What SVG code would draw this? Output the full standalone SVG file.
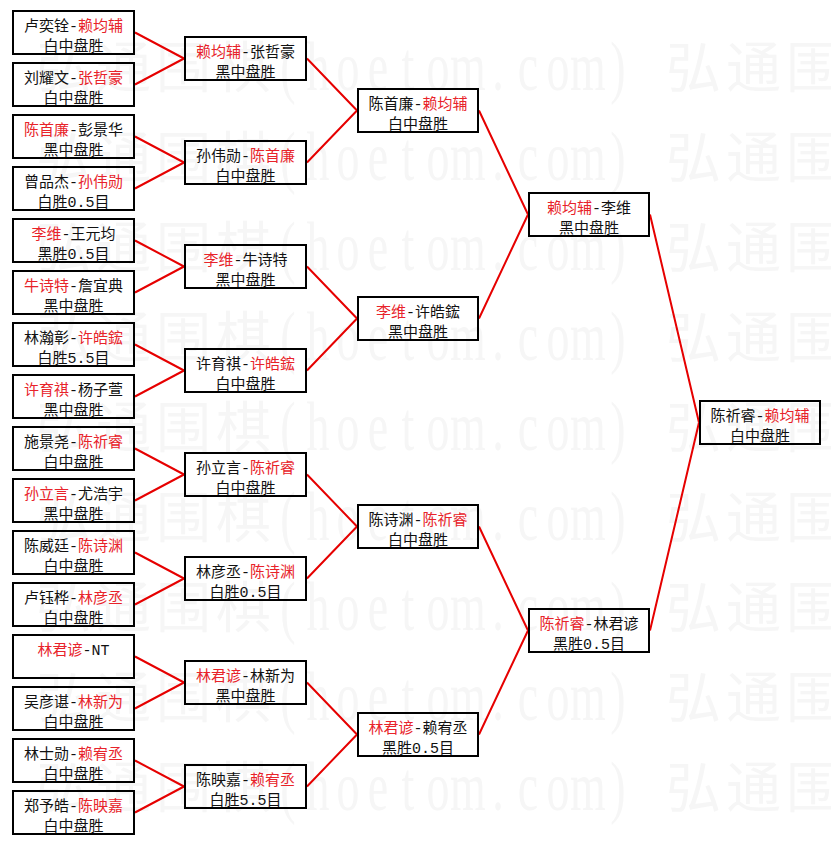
<svg xmlns="http://www.w3.org/2000/svg" xmlns:xlink="http://www.w3.org/1999/xlink" width="831" height="845" viewBox="0 0 831 845">
<style>
.box{fill:none;stroke:#000;stroke-width:2}
.t{font-family:"Liberation Mono","Noto Sans CJK SC",monospace;font-size:15px;fill:#111;text-anchor:middle}
.r{fill:#e8232a}
.link{stroke:#e60000;stroke-width:2;fill:none}
.wmc{font-family:"Noto Sans CJK SC",sans-serif;font-size:55px;fill:#f6f6f6}
.wml{font-family:"Liberation Serif",serif;font-size:46px;fill:#f6f6f6;text-anchor:middle}
</style>
<defs>
<g id="wmrow">
<text class="wmc" x="36 96 156 216" y="-3">弘通围棋</text>
<text class="wmc" x="666 726 786" y="-3">弘通围</text>
<text class="wml" transform="scale(1,1.5)" x="288 318 348 378 408 438 468 498 528 558 588 618" y="0">(hoetom.com)</text>
</g>
</defs>
<rect x="0" y="0" width="831" height="845" fill="#fff"/>
<g id="watermark">
<use xlink:href="#wmrow" x="0" y="90"/>
<use xlink:href="#wmrow" x="0" y="180"/>
<use xlink:href="#wmrow" x="0" y="270"/>
<use xlink:href="#wmrow" x="0" y="360"/>
<use xlink:href="#wmrow" x="0" y="450"/>
<use xlink:href="#wmrow" x="0" y="540"/>
<use xlink:href="#wmrow" x="0" y="630"/>
<use xlink:href="#wmrow" x="0" y="720"/>
<use xlink:href="#wmrow" x="0" y="810"/>
</g>
<g id="connectors">
<path class="link" d="M135,32.5L184,58.5M135,84.5L184,58.5M135,136.5L184,162.5M135,188.5L184,162.5M135,240.5L184,266.5M135,292.5L184,266.5M135,344.5L184,370.5M135,396.5L184,370.5M135,448.5L184,474.5M135,500.5L184,474.5M135,552.5L184,578.5M135,604.5L184,578.5M135,656.5L184,682.5M135,708.5L184,682.5M135,760.5L184,786.5M135,812.5L184,786.5"/>
<path class="link" d="M307,58.5L357,110.5M307,162.5L357,110.5M307,266.5L357,318.5M307,370.5L357,318.5M307,474.5L357,526.5M307,578.5L357,526.5M307,682.5L357,734.5M307,786.5L357,734.5"/>
<path class="link" d="M479,110.5L528,214.5M479,318.5L528,214.5M479,526.5L528,630.5M479,734.5L528,630.5"/>
<path class="link" d="M650,214.5L699,422.5M650,630.5L699,422.5"/>
</g>
<g id="n1-1"><rect class="box" x="13" y="11" width="121" height="43"/><text class="t" x="73.5" y="31">卢奕铨-<tspan class="r">赖均辅</tspan></text><text class="t" x="73.5" y="51">白中盘胜</text></g>
<g id="n1-2"><rect class="box" x="13" y="63" width="121" height="43"/><text class="t" x="73.5" y="83">刘耀文-<tspan class="r">张哲豪</tspan></text><text class="t" x="73.5" y="103">白中盘胜</text></g>
<g id="n1-3"><rect class="box" x="13" y="115" width="121" height="43"/><text class="t" x="73.5" y="135"><tspan class="r">陈首廉</tspan>-彭景华</text><text class="t" x="73.5" y="155">黑中盘胜</text></g>
<g id="n1-4"><rect class="box" x="13" y="167" width="121" height="43"/><text class="t" x="73.5" y="187">曾品杰-<tspan class="r">孙伟勋</tspan></text><text class="t" x="73.5" y="207">白胜0.5目</text></g>
<g id="n1-5"><rect class="box" x="13" y="219" width="121" height="43"/><text class="t" x="73.5" y="239"><tspan class="r">李维</tspan>-王元均</text><text class="t" x="73.5" y="259">黑胜0.5目</text></g>
<g id="n1-6"><rect class="box" x="13" y="271" width="121" height="43"/><text class="t" x="73.5" y="291"><tspan class="r">牛诗特</tspan>-詹宜典</text><text class="t" x="73.5" y="311">黑中盘胜</text></g>
<g id="n1-7"><rect class="box" x="13" y="323" width="121" height="43"/><text class="t" x="73.5" y="343">林瀚彰-<tspan class="r">许皓鋐</tspan></text><text class="t" x="73.5" y="363">白胜5.5目</text></g>
<g id="n1-8"><rect class="box" x="13" y="375" width="121" height="43"/><text class="t" x="73.5" y="395"><tspan class="r">许育祺</tspan>-杨子萱</text><text class="t" x="73.5" y="415">黑中盘胜</text></g>
<g id="n1-9"><rect class="box" x="13" y="427" width="121" height="43"/><text class="t" x="73.5" y="447">施景尧-<tspan class="r">陈祈睿</tspan></text><text class="t" x="73.5" y="467">白中盘胜</text></g>
<g id="n1-10"><rect class="box" x="13" y="479" width="121" height="43"/><text class="t" x="73.5" y="499"><tspan class="r">孙立言</tspan>-尤浩宇</text><text class="t" x="73.5" y="519">黑中盘胜</text></g>
<g id="n1-11"><rect class="box" x="13" y="531" width="121" height="43"/><text class="t" x="73.5" y="551">陈威廷-<tspan class="r">陈诗渊</tspan></text><text class="t" x="73.5" y="571">白中盘胜</text></g>
<g id="n1-12"><rect class="box" x="13" y="583" width="121" height="43"/><text class="t" x="73.5" y="603">卢钰桦-<tspan class="r">林彦丞</tspan></text><text class="t" x="73.5" y="623">白中盘胜</text></g>
<g id="n1-13"><rect class="box" x="13" y="635" width="121" height="43"/><text class="t" x="73.5" y="655"><tspan class="r">林君谚</tspan>-NT</text></g>
<g id="n1-14"><rect class="box" x="13" y="687" width="121" height="43"/><text class="t" x="73.5" y="707">吴彦谌-<tspan class="r">林新为</tspan></text><text class="t" x="73.5" y="727">白中盘胜</text></g>
<g id="n1-15"><rect class="box" x="13" y="739" width="121" height="43"/><text class="t" x="73.5" y="759">林士勋-<tspan class="r">赖宥丞</tspan></text><text class="t" x="73.5" y="779">白中盘胜</text></g>
<g id="n1-16"><rect class="box" x="13" y="791" width="121" height="43"/><text class="t" x="73.5" y="811">郑予皓-<tspan class="r">陈映嘉</tspan></text><text class="t" x="73.5" y="831">白中盘胜</text></g>
<g id="n2-1"><rect class="box" x="185" y="37" width="121" height="43"/><text class="t" x="245.5" y="57"><tspan class="r">赖均辅</tspan>-张哲豪</text><text class="t" x="245.5" y="77">黑中盘胜</text></g>
<g id="n2-2"><rect class="box" x="185" y="141" width="121" height="43"/><text class="t" x="245.5" y="161">孙伟勋-<tspan class="r">陈首廉</tspan></text><text class="t" x="245.5" y="181">白中盘胜</text></g>
<g id="n2-3"><rect class="box" x="185" y="245" width="121" height="43"/><text class="t" x="245.5" y="265"><tspan class="r">李维</tspan>-牛诗特</text><text class="t" x="245.5" y="285">黑中盘胜</text></g>
<g id="n2-4"><rect class="box" x="185" y="349" width="121" height="43"/><text class="t" x="245.5" y="369">许育祺-<tspan class="r">许皓鋐</tspan></text><text class="t" x="245.5" y="389">白中盘胜</text></g>
<g id="n2-5"><rect class="box" x="185" y="453" width="121" height="43"/><text class="t" x="245.5" y="473">孙立言-<tspan class="r">陈祈睿</tspan></text><text class="t" x="245.5" y="493">白中盘胜</text></g>
<g id="n2-6"><rect class="box" x="185" y="557" width="121" height="43"/><text class="t" x="245.5" y="577">林彦丞-<tspan class="r">陈诗渊</tspan></text><text class="t" x="245.5" y="597">白胜0.5目</text></g>
<g id="n2-7"><rect class="box" x="185" y="661" width="121" height="43"/><text class="t" x="245.5" y="681"><tspan class="r">林君谚</tspan>-林新为</text><text class="t" x="245.5" y="701">黑中盘胜</text></g>
<g id="n2-8"><rect class="box" x="185" y="765" width="121" height="43"/><text class="t" x="245.5" y="785">陈映嘉-<tspan class="r">赖宥丞</tspan></text><text class="t" x="245.5" y="805">白胜5.5目</text></g>
<g id="n3-1"><rect class="box" x="358" y="89" width="120" height="43"/><text class="t" x="418" y="109">陈首廉-<tspan class="r">赖均辅</tspan></text><text class="t" x="418" y="129">白中盘胜</text></g>
<g id="n3-2"><rect class="box" x="358" y="297" width="120" height="43"/><text class="t" x="418" y="317"><tspan class="r">李维</tspan>-许皓鋐</text><text class="t" x="418" y="337">黑中盘胜</text></g>
<g id="n3-3"><rect class="box" x="358" y="505" width="120" height="43"/><text class="t" x="418" y="525">陈诗渊-<tspan class="r">陈祈睿</tspan></text><text class="t" x="418" y="545">白中盘胜</text></g>
<g id="n3-4"><rect class="box" x="358" y="713" width="120" height="43"/><text class="t" x="418" y="733"><tspan class="r">林君谚</tspan>-赖宥丞</text><text class="t" x="418" y="753">黑胜0.5目</text></g>
<g id="n4-1"><rect class="box" x="529" y="193" width="120" height="43"/><text class="t" x="589" y="213"><tspan class="r">赖均辅</tspan>-李维</text><text class="t" x="589" y="233">黑中盘胜</text></g>
<g id="n4-2"><rect class="box" x="529" y="609" width="120" height="43"/><text class="t" x="589" y="629"><tspan class="r">陈祈睿</tspan>-林君谚</text><text class="t" x="589" y="649">黑胜0.5目</text></g>
<g id="n5-1"><rect class="box" x="700" y="401" width="120" height="43"/><text class="t" x="760" y="421">陈祈睿-<tspan class="r">赖均辅</tspan></text><text class="t" x="760" y="441">白中盘胜</text></g>
</svg>
